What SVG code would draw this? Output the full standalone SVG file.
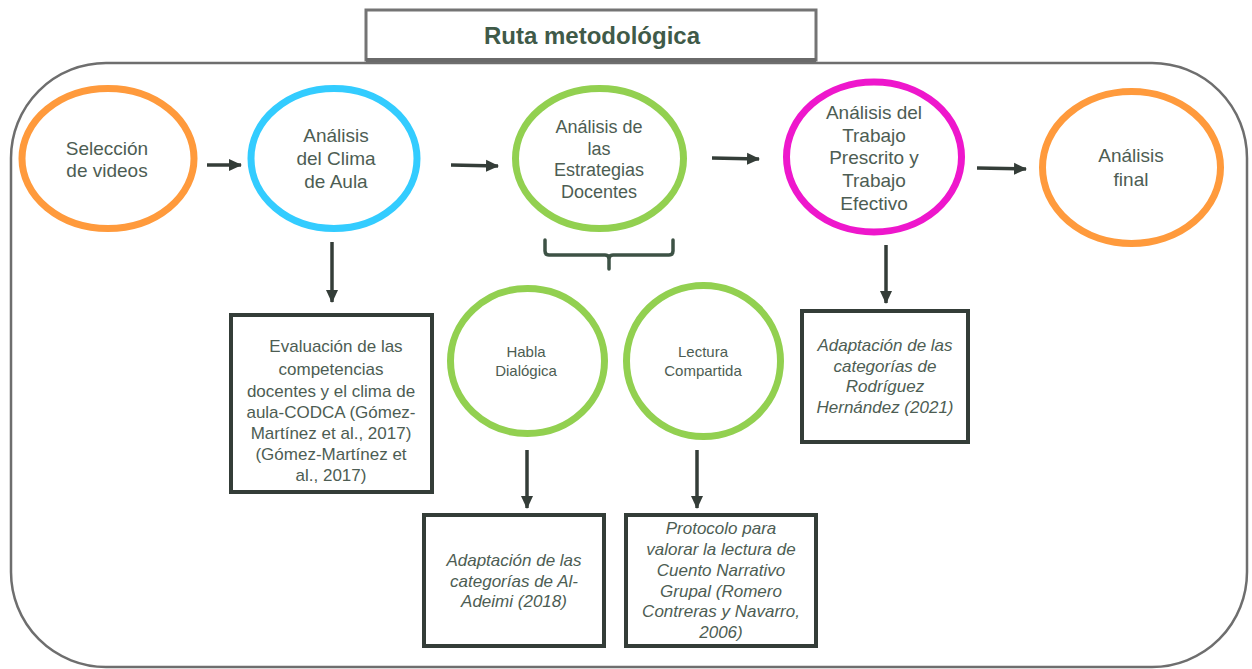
<svg xmlns="http://www.w3.org/2000/svg" width="1252" height="669" viewBox="0 0 1252 669">
<defs>
<style>
.frame{fill:none;stroke:#6e6e6e;stroke-width:2.5}
.title-box{fill:#fff;stroke:#747474;stroke-width:3}
.title{font-family:"Liberation Sans",Arial,sans-serif;font-size:24px;font-weight:bold;fill:#3f5a48;text-anchor:middle}
.ell{fill:#fff;stroke-width:7}
.orange{stroke:#ff9a3c}
.blue{stroke:#33ccff}
.green{stroke:#92d050}
.magenta{stroke:#ee17cc}
.t{font-family:"Liberation Sans",Arial,sans-serif;fill:#4d5d53;text-anchor:middle}
.n19{font-size:19px}
.n18{font-size:18px}
.n15{font-size:15px}
.b17{font-size:17px}
.it{font-style:italic}
.box{fill:#fff;stroke:#343d38;stroke-width:4}
.conn{fill:none;stroke:#343d38;stroke-width:3.5}
.brace{fill:none;stroke:#3d5245;stroke-width:3.5;stroke-linecap:round;stroke-linejoin:round}
</style>
<marker id="ah" markerUnits="userSpaceOnUse" markerWidth="14" markerHeight="14" viewBox="0 0 14 14" refX="12" refY="7" orient="auto">
<path d="M0,1 L13,7 L0,13 Z" fill="#343d38"/>
</marker>
</defs>

<rect class="frame" x="11" y="63" width="1236" height="604" rx="95" ry="95"/>

<g id="title">
<rect class="title-box" x="366" y="10" width="450" height="50"/>
<line x1="366" y1="60" x2="816" y2="60" stroke="#6a6a6a" stroke-width="4"/>
<text class="title" x="592" y="44">Ruta metodológica</text>
</g>

<g id="connectors">
<line class="conn" x1="207" y1="165" x2="241" y2="165" marker-end="url(#ah)"/>
<line class="conn" x1="451" y1="165" x2="498" y2="166" marker-end="url(#ah)"/>
<line class="conn" x1="712" y1="158" x2="759" y2="159" marker-end="url(#ah)"/>
<line class="conn" x1="977" y1="168" x2="1026" y2="169" marker-end="url(#ah)"/>
<line class="conn" x1="332" y1="242" x2="332" y2="302" marker-end="url(#ah)"/>
<line class="conn" x1="886" y1="245" x2="886" y2="303" marker-end="url(#ah)"/>
<line class="conn" x1="527" y1="450" x2="527" y2="508" marker-end="url(#ah)"/>
<line class="conn" x1="697" y1="450" x2="697" y2="508" marker-end="url(#ah)"/>
<path class="brace" d="M545,240 V251 Q545,255 549,255 H605 Q609,255 609,259 V269 M609,259 Q609,255 613,255 H669 Q673,255 673,251 V240"/>
</g>

<g id="n-seleccion">
<ellipse class="ell orange" cx="108" cy="158.5" rx="86" ry="70"/>
<text class="t n19" x="107" y="155">Selección</text>
<text class="t n19" x="107" y="177">de videos</text>
</g>

<g id="n-clima">
<ellipse class="ell blue" cx="334" cy="158.5" rx="83" ry="70"/>
<text class="t n19" x="336" y="142">Análisis</text>
<text class="t n19" x="336" y="165">del Clima</text>
<text class="t n19" x="336" y="188">de Aula</text>
</g>

<g id="n-estrategias">
<ellipse class="ell green" cx="599.5" cy="158.5" rx="84" ry="70"/>
<text class="t n18" x="599" y="133">Análisis de</text>
<text class="t n18" x="599" y="154.5">las</text>
<text class="t n18" x="599" y="176">Estrategias</text>
<text class="t n18" x="599" y="198">Docentes</text>
</g>

<g id="n-trabajo">
<ellipse class="ell magenta" cx="874" cy="157" rx="87.5" ry="75"/>
<text class="t n19" x="874" y="119">Análisis del</text>
<text class="t n19" x="874" y="142">Trabajo</text>
<text class="t n19" x="874" y="164">Prescrito y</text>
<text class="t n19" x="874" y="187">Trabajo</text>
<text class="t n19" x="874" y="210">Efectivo</text>
</g>

<g id="n-final">
<ellipse class="ell orange" cx="1131.5" cy="167.5" rx="89" ry="76"/>
<text class="t n19" x="1131" y="162">Análisis</text>
<text class="t n19" x="1131" y="186">final</text>
</g>

<g id="n-codca">
<rect class="box" x="231" y="315" width="201" height="177"/>
<text class="t b17" x="336" y="352">Evaluación de las</text>
<text class="t b17" x="331" y="375">competencias</text>
<text class="t b17" x="331" y="397">docentes y el clima de</text>
<text class="t b17" x="331" y="418">aula-CODCA (Gómez-</text>
<text class="t b17" x="331" y="439">Martínez et al., 2017)</text>
<text class="t b17" x="331" y="460">(Gómez-Martínez et</text>
<text class="t b17" x="331" y="481">al., 2017)</text>
</g>

<g id="n-habla">
<ellipse class="ell green" cx="527.5" cy="361" rx="77" ry="72.5"/>
<text class="t n15" x="526" y="357">Habla</text>
<text class="t n15" x="526" y="376">Dialógica</text>
</g>

<g id="n-lectura">
<ellipse class="ell green" cx="703.5" cy="361" rx="77" ry="75.5"/>
<text class="t n15" x="703" y="357">Lectura</text>
<text class="t n15" x="703" y="376">Compartida</text>
</g>

<g id="n-rodriguez">
<rect class="box" x="802" y="311" width="166" height="131"/>
<text class="t b17 it" x="885" y="351">Adaptación de las</text>
<text class="t b17 it" x="885" y="372">categorías de</text>
<text class="t b17 it" x="885" y="392">Rodríguez</text>
<text class="t b17 it" x="885" y="413">Hernández (2021)</text>
</g>

<g id="n-adeimi">
<rect class="box" x="424" y="515" width="180" height="131"/>
<text class="t b17 it" x="514" y="566">Adaptación de las</text>
<text class="t b17 it" x="514" y="587">categorías de Al-</text>
<text class="t b17 it" x="514" y="607">Adeimi (2018)</text>
</g>

<g id="n-protocolo">
<rect class="box" x="626" y="515" width="190" height="131"/>
<text class="t b17 it" x="721" y="534">Protocolo para</text>
<text class="t b17 it" x="721" y="555">valorar la lectura de</text>
<text class="t b17 it" x="721" y="576">Cuento Narrativo</text>
<text class="t b17 it" x="721" y="597">Grupal (Romero</text>
<text class="t b17 it" x="721" y="617">Contreras y Navarro,</text>
<text class="t b17 it" x="721" y="638">2006)</text>
</g>
</svg>
